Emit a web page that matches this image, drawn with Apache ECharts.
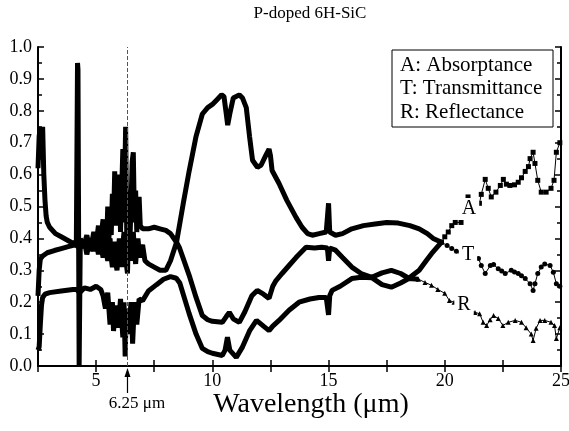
<!DOCTYPE html>
<html>
<head>
<meta charset="utf-8">
<script src="https://cdn.jsdelivr.net/npm/echarts@6/dist/echarts.min.js"></script>
<style>
  html, body { margin: 0; padding: 0; background: #fff; }
  #main { width: 569px; height: 431px; }
</style>
</head>
<body>
<div id="main"></div>
<script>
// wavelength (um) and values
var aX = [2.5,2.55,2.6,2.65,2.7,2.75,2.8,2.85,2.9,3.0,3.25,3.5,3.75,4.0,4.15,4.2,4.22,4.27,4.32,4.45,
  4.6,4.75,4.9,5.0,5.1,5.2,5.25,5.3,5.35,5.4,5.45,5.5,5.55,5.6,5.65,5.7,5.75,5.8,5.85,5.9,
  5.95,6.0,6.05,6.1,6.15,6.2,6.27,6.32,6.4,6.45,6.5,6.55,6.6,6.65,6.7,6.75,6.8,6.85,6.9,7.0,
  7.25,7.5,7.75,8.0,8.2,8.46,8.75,9.0,9.3,9.57,9.8,10.0,10.2,10.4,10.5,10.6,10.66,10.75,10.9,11.16,
  11.3,11.46,11.6,11.73,11.94,12.1,12.3,12.44,12.5,12.57,12.87,13.2,13.6,13.86,14.1,14.3,14.6,14.9,15.0,15.05,
  15.3,15.6,16.0,16.5,17.0,17.5,18.0,18.5,18.9,19.25,19.5,19.86,
  20.0,20.15,20.3,20.45,20.7,21.0,21.49,21.57,21.74,21.87,22.0,22.2,22.39,22.52,22.65,22.8,23.0,23.16,23.3,23.46,
  23.6,23.67,23.8,23.88,24.0,24.15,24.36,24.57,24.7,24.8,24.95];
var aY = [0.62,0.72,0.75,0.66,0.75,0.6,0.52,0.47,0.45,0.435,0.415,0.405,0.395,0.385,0.39,0.95,0.93,0.0,0.4,0.37,
  0.41,0.36,0.42,0.38,0.44,0.37,0.43,0.46,0.39,0.44,0.38,0.5,0.4,0.47,0.41,0.54,0.45,0.61,0.44,0.6,
  0.48,0.6,0.42,0.55,0.68,0.45,0.75,0.4,0.55,0.38,0.5,0.64,0.67,0.45,0.55,0.42,0.5,0.53,0.44,0.43,
  0.43,0.435,0.43,0.425,0.415,0.388,0.51,0.61,0.72,0.79,0.81,0.82,0.835,0.85,0.845,0.79,0.755,0.79,0.84,0.85,
  0.84,0.81,0.72,0.645,0.623,0.63,0.66,0.68,0.66,0.613,0.572,0.52,0.466,0.435,0.415,0.41,0.415,0.42,0.51,0.42,
  0.41,0.415,0.43,0.44,0.445,0.45,0.448,0.44,0.43,0.415,0.4,0.388,
  0.405,0.42,0.44,0.45,0.45,0.53,0.51,0.538,0.585,0.557,0.53,0.545,0.566,0.585,0.57,0.566,0.568,0.576,0.59,0.61,
  0.625,0.65,0.67,0.635,0.582,0.545,0.545,0.557,0.582,0.67,0.7];

var tX = [2.5,2.55,2.6,2.7,2.9,3.2,3.5,3.8,4.1,4.3,4.5,4.6,4.75,4.9,5.0,5.05,5.1,5.15,5.2,5.25,
  5.3,5.35,5.4,5.45,5.5,5.55,5.6,5.65,5.7,5.75,5.8,5.85,5.9,5.95,6.0,6.05,6.1,6.15,6.2,6.25,
  6.3,6.35,6.4,6.45,6.5,6.55,6.6,6.65,6.7,6.75,6.8,6.85,6.9,6.95,7.0,7.1,7.25,7.5,7.75,8.0,
  8.2,8.46,8.59,9.0,9.3,9.57,9.8,10.0,10.43,10.6,10.73,10.9,11.16,11.4,11.7,11.93,12.2,12.44,12.6,12.74,
  13.0,13.3,13.6,14.03,14.4,14.7,14.95,15.0,15.05,15.3,15.6,16.0,16.4,16.86,17.3,17.7,18.1,18.45,18.9,19.2,
  19.43,19.86,
  20.1,20.3,20.5,20.7,21.0,21.2,21.45,21.57,21.74,21.96,22.1,22.3,22.45,22.6,22.86,23.0,23.16,23.3,23.46,23.67,
  23.8,23.88,24.0,24.15,24.3,24.53,24.67,24.8,24.95];
var tY = [0.22,0.3,0.335,0.345,0.355,0.362,0.368,0.374,0.38,0.37,0.39,0.35,0.4,0.36,0.41,0.37,0.35,0.4,0.42,0.36,
  0.34,0.4,0.41,0.35,0.33,0.39,0.4,0.34,0.31,0.37,0.39,0.32,0.3,0.36,0.4,0.35,0.31,0.38,0.42,0.36,
  0.32,0.29,0.44,0.37,0.33,0.39,0.42,0.36,0.32,0.37,0.4,0.36,0.34,0.37,0.38,0.33,0.32,0.31,0.3,0.3,
  0.33,0.388,0.37,0.285,0.215,0.158,0.145,0.14,0.137,0.155,0.168,0.148,0.137,0.17,0.22,0.237,0.225,0.212,0.25,0.268,
  0.29,0.315,0.34,0.372,0.37,0.372,0.37,0.33,0.37,0.363,0.34,0.31,0.29,0.278,0.292,0.3,0.29,0.275,0.3,0.33,
  0.352,0.388,
  0.378,0.368,0.36,0.355,0.345,0.34,0.337,0.315,0.29,0.315,0.318,0.305,0.298,0.29,0.3,0.295,0.29,0.283,0.274,0.258,
  0.237,0.258,0.29,0.31,0.32,0.315,0.294,0.258,0.25];

var rX = [2.5,2.55,2.6,2.65,2.7,2.8,3.0,3.5,4.0,4.15,4.3,4.5,4.75,5.0,5.2,5.3,5.4,5.5,5.6,5.7,
  5.75,5.85,5.95,6.05,6.15,6.2,6.25,6.3,6.4,6.5,6.57,6.65,6.75,6.85,7.0,7.25,7.6,7.9,8.2,8.45,
  8.6,9.0,9.3,9.57,9.8,10.0,10.43,10.55,10.65,10.75,11.03,11.3,11.6,11.9,12.2,12.44,12.6,12.87,13.3,13.73,
  14.2,14.59,14.9,15.0,15.05,15.15,15.5,16.0,16.4,16.86,17.3,17.7,18.1,18.45,18.87,
  19.15,19.43,19.7,20.0,20.2,20.4,20.6,21.0,21.3,21.5,21.65,21.8,21.95,22.1,22.3,22.5,22.73,23.03,23.3,23.5,
  23.72,23.8,23.93,24.1,24.3,24.57,24.72,24.8,24.95];
var rY = [0.05,0.06,0.13,0.19,0.215,0.225,0.23,0.235,0.24,0.24,0.23,0.245,0.24,0.25,0.24,0.22,0.18,0.23,0.13,0.2,
  0.11,0.19,0.12,0.21,0.09,0.2,0.03,0.18,0.1,0.2,0.07,0.2,0.13,0.21,0.205,0.235,0.255,0.272,0.28,0.275,
  0.26,0.165,0.1,0.055,0.045,0.04,0.033,0.05,0.09,0.05,0.027,0.06,0.11,0.143,0.125,0.111,0.125,0.143,0.175,0.2,
  0.21,0.215,0.215,0.16,0.22,0.237,0.25,0.274,0.278,0.277,0.255,0.247,0.26,0.274,0.272,
  0.262,0.253,0.24,0.228,0.205,0.2,0.19,0.175,0.168,0.164,0.137,0.127,0.145,0.158,0.149,0.127,0.137,0.143,0.137,0.12,
  0.1,0.08,0.118,0.143,0.143,0.137,0.127,0.086,0.12];

var yTicks = [0, 0.1, 0.2, 0.3, 0.4, 0.5, 0.6, 0.7, 0.8, 0.9, 1.0];
var markWavelength = 6.35;   // where the dashed line sits in the picture

var serif = 'Liberation Serif';

function zip(xs, ys, from, to) {
  var out = [];
  for (var i = 0; i < xs.length; i++) {
    if (xs[i] >= from && xs[i] <= to) out.push([xs[i], ys[i]]);
  }
  return out;
}

function dense(name, xs, ys, split) {
  return {
    name: name, type: 'line', data: zip(xs, ys, 0, split),
    symbol: 'none', lineStyle: { color: '#000', width: 5 }, itemStyle: { color: '#000' },
    z: 2
  };
}

function tail(name, xs, ys, split, symbol) {
  return {
    name: name, type: 'line', data: zip(xs, ys, split, 99),
    symbol: symbol, symbolSize: 5, showAllSymbol: true,
    lineStyle: { color: '#000', width: 1 }, itemStyle: { color: '#000' },
    z: 2
  };
}

var chart = echarts.init(document.getElementById('main'), null, { renderer: 'canvas' });

var axisLine = { lineStyle: { color: '#000', width: 2 } };
var tick = { inside: true, length: 6, lineStyle: { color: '#000', width: 1.5 } };
var minorTick = { show: true, splitNumber: 2, length: 4, lineStyle: { color: '#000', width: 1.5 } };

var seriesA = dense('A', aX, aY, 19.86);
seriesA.markLine = {
  silent: true, symbol: 'none', animation: false,
  label: { show: false },
  lineStyle: { type: 'dashed', color: '#555', width: 1 },
  data: [{ xAxis: markWavelength }]
};

var option = {
  animation: false,
  backgroundColor: '#fff',
  grid: { left: 38, right: 8, top: 47, bottom: 65, containLabel: false, outerBoundsMode: 'none' },
  xAxis: [
    {
      type: 'value', min: 2.5, max: 25, interval: 2.5, position: 'bottom',
      axisLine: axisLine, axisTick: tick, splitLine: { show: false },
      axisLabel: {
        color: '#000', fontFamily: serif, fontSize: 18, margin: 6,
        formatter: function (v) { return v % 5 === 0 ? String(v) : ''; }
      }
    },
    {
      type: 'value', min: 2.5, max: 25, interval: 2.5, position: 'top',
      axisLine: axisLine, axisTick: tick, splitLine: { show: false },
      axisLabel: { show: false }
    }
  ],
  yAxis: [
    {
      type: 'value', min: yTicks[0], max: yTicks[yTicks.length - 1], interval: 0.1, position: 'left',
      axisLine: axisLine, axisTick: tick, minorTick: minorTick, splitLine: { show: false },
      axisLabel: {
        color: '#000', fontFamily: serif, fontSize: 18, margin: 6,
        formatter: function (v) { return v.toFixed(1); }
      }
    },
    {
      type: 'value', min: 0, max: 1, interval: 0.1, position: 'right',
      axisLine: axisLine, axisTick: tick, minorTick: minorTick, splitLine: { show: false },
      axisLabel: { show: false }
    }
  ],
  series: [
    seriesA,
    tail('A', aX, aY, 19.86, 'rect'),
    dense('T', tX, tY, 19.86),
    tail('T', tX, tY, 19.86, 'circle'),
    dense('R', rX, rY, 18.87),
    tail('R', rX, rY, 18.87, 'triangle')
  ]
};

chart.setOption(option);

// annotations
var px = chart.convertToPixel({ xAxisIndex: 0 }, markWavelength);
var textBase = { fill: '#000', fontFamily: serif };

function curveLabel(text, x, y) {
  return {
    type: 'text', x: x, y: y, z: 10,
    style: Object.assign({}, textBase, {
      text: text, fontSize: 20, align: 'center', verticalAlign: 'middle',
      backgroundColor: '#fff', padding: [1, 3]
    })
  };
}

chart.setOption({
  graphic: [
    {
      type: 'text', x: 310, y: 14,
      style: Object.assign({}, textBase, { text: 'P-doped 6H-SiC', fontSize: 17, align: 'center', verticalAlign: 'middle' })
    },
    {
      type: 'text', x: 311, y: 405,
      style: Object.assign({}, textBase, { text: 'Wavelength (μm)', fontSize: 28, align: 'center', verticalAlign: 'middle' })
    },
    {
      type: 'text', x: 137, y: 404,
      style: Object.assign({}, textBase, { text: '6.25 μm', fontSize: 17, align: 'center', verticalAlign: 'middle' })
    },
    {
      type: 'line', shape: { x1: px, y1: 393, x2: px, y2: 374 },
      style: { stroke: '#000', lineWidth: 1.2 }
    },
    {
      type: 'polygon', shape: { points: [[px, 368], [px - 3, 377], [px + 3, 377]] },
      style: { fill: '#000' }
    },
    {
      type: 'rect', z: 10, shape: { x: 392, y: 50, width: 161, height: 77 },
      style: { fill: '#fff', stroke: '#000', lineWidth: 1 }
    },
    {
      type: 'text', x: 400, y: 65, z: 11,
      style: Object.assign({}, textBase, { text: 'A: Absorptance', fontSize: 21, verticalAlign: 'middle' })
    },
    {
      type: 'text', x: 400, y: 88, z: 11,
      style: Object.assign({}, textBase, { text: 'T: Transmittance', fontSize: 21, verticalAlign: 'middle' })
    },
    {
      type: 'text', x: 400, y: 112, z: 11,
      style: Object.assign({}, textBase, { text: 'R: Reflectance', fontSize: 21, verticalAlign: 'middle' })
    },
    curveLabel('A', 469, 209),
    curveLabel('T', 468, 255),
    curveLabel('R', 464, 305)
  ]
});
</script>
</body>
</html>
